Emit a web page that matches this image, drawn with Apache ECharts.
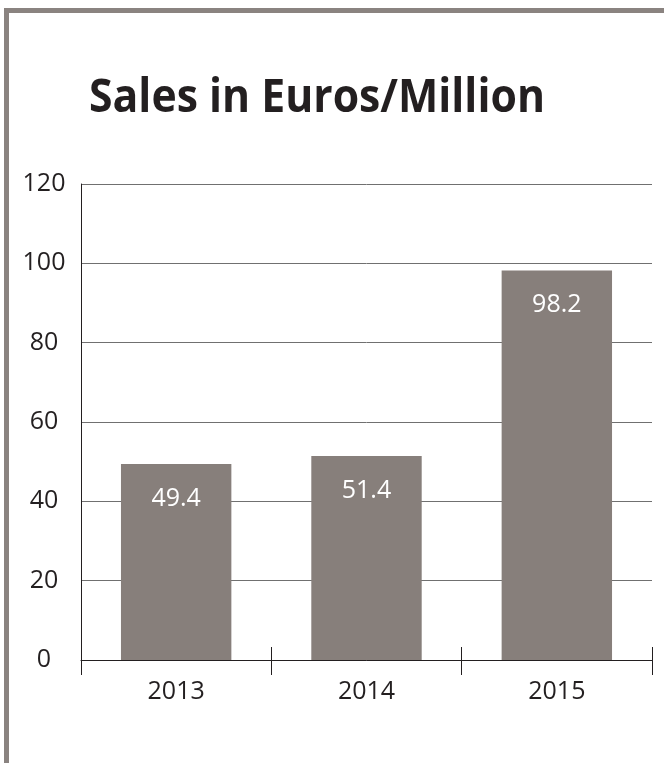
<!DOCTYPE html>
<html>
<head>
<meta charset="utf-8">
<script src="https://cdn.jsdelivr.net/npm/echarts@6/dist/echarts.min.js"></script>
<style>
  html, body { margin: 0; padding: 0; background: #ffffff; }
  #chart { width: 664px; height: 763px; }
</style>
</head>
<body>
<div id="chart"></div>
<script>
// Yearly sales, in millions of euros
const years = ['2013', '2014', '2015'];
const sales = [49.4, 51.4, 98.2];
const titleText = 'Sales in Euros/Million';

const FRAME = '#8a8380';
const BAR = '#877f7b';
const INK = '#231f20';
const FONT = '"Open Sans", "Noto Sans", sans-serif';

// Condense the bold title horizontally to the target width
const titleFont = 'bold 46px "Open Sans"';
const ctx = document.createElement('canvas').getContext('2d');
ctx.font = titleFont;
const titleScale = 456 / ctx.measureText(titleText).width;

const chart = echarts.init(document.getElementById('chart'), null, { renderer: 'canvas' });

chart.setOption({
  animation: false,
  backgroundColor: '#ffffff',
  grid: { left: 81, right: 12, top: 184, bottom: 103, containLabel: false },
  graphic: [
    { type: 'rect', shape: { x: 4, y: 8, width: 660, height: 5 }, style: { fill: FRAME } },
    { type: 'rect', shape: { x: 4, y: 8, width: 5, height: 755 }, style: { fill: FRAME } },
    {
      type: 'text',
      x: 89, y: 99,
      scaleX: titleScale,
      style: { text: titleText, font: titleFont, fill: INK, verticalAlign: 'middle', align: 'left', x: 0, y: 0 }
    }
  ],
  xAxis: [
    {
      type: 'category',
      data: years,
      position: 'bottom',
      axisLine: { show: true, lineStyle: { color: INK, width: 1 } },
      axisTick: { show: true, length: 15, inside: false, lineStyle: { color: INK } },
      axisLabel: { margin: 19, fontSize: 25, fontFamily: FONT, color: INK }
    },
    {
      // upper half of the crossing tick marks
      type: 'category',
      data: years,
      position: 'bottom',
      axisLine: { show: false },
      axisTick: { show: true, length: 13, inside: true, lineStyle: { color: INK } },
      axisLabel: { show: false }
    }
  ],
  yAxis: {
    type: 'value',
    min: 0, max: 120, interval: 20,
    axisLine: { show: true, lineStyle: { color: INK, width: 1 } },
    axisTick: { show: false },
    splitLine: { show: true, lineStyle: { color: '#707070', width: 1 } },
    axisLabel: { margin: 37, align: 'center', fontSize: 25, fontFamily: FONT, color: INK }
  },
  series: [{
    type: 'bar',
    xAxisIndex: 0,
    data: sales,
    barWidth: '58%',
    itemStyle: { color: BAR },
    label: {
      show: true,
      position: 'insideTop',
      distance: 22,
      fontSize: 25,
      fontFamily: FONT,
      color: '#ffffff'
    }
  }]
});
</script>
</body>
</html>
